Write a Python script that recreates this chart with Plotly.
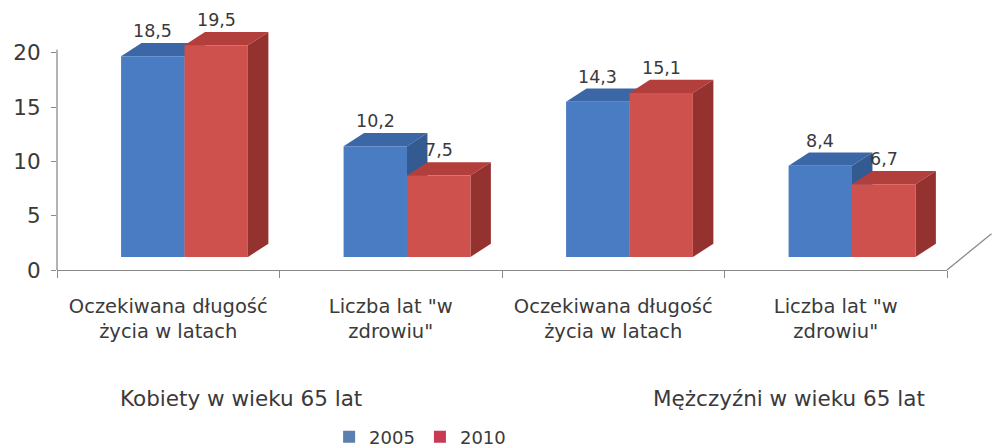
import plotly.graph_objects as go

# ---- data ----
categories_line1 = ["Oczekiwana długość", 'Liczba lat "w', "Oczekiwana długość", 'Liczba lat "w']
categories_line2 = ["życia w latach", 'zdrowiu"', "życia w latach", 'zdrowiu"']
groups = ["Kobiety w wieku 65 lat", "Mężczyźni w wieku 65 lat"]
series_names = ["2005", "2010"]
values_2005 = [18.5, 10.2, 14.3, 8.4]
values_2010 = [19.5, 7.5, 15.1, 6.7]
y_ticks = [0, 5, 10, 15, 20]

# ---- style ----
FONT = "DejaVu Sans"
TXT = "#3a3a3a"
AX = "#8a8a8a"
front_col = {"2005": "#4a7cc4", "2010": "#cf514d"}
top_col = {"2005": "#3c67a6", "2010": "#b23f3b"}
side_col = {"2005": "#345a92", "2010": "#943230"}
legend_col = {"2005": "#5b7fae", "2010": "#c93a55"}
offsets = {"2005": -0.212, "2010": 0.073}
W = 0.285
BASE = 1.2      # floor depth of the 3D frame
DX, DY = 0.092, 1.22  # 3D depth of each bar

xs = list(range(len(values_2005)))
series = {"2005": values_2005, "2010": values_2010}

fig = go.Figure()
shapes = []
annotations = []

for name in series_names:
    vals = series[name]
    fig.add_trace(go.Bar(
        x=xs, y=vals, base=[BASE] * len(vals), name=name,
        offset=offsets[name], width=W,
        marker=dict(color=front_col[name], line=dict(width=0)),
        hoverinfo="skip", showlegend=False,
    ))
    # legend entry (square swatch)
    fig.add_trace(go.Bar(x=[None], y=[None], name=name,
                         marker=dict(color=legend_col[name], line=dict(width=0)),
                         showlegend=True, hoverinfo="skip"))
    for xi, v in zip(xs, vals):
        x0 = xi + offsets[name]
        x1 = x0 + W
        yb = BASE
        yt = BASE + v
        top = f"M{x0},{yt} L{x0+DX},{yt+DY} L{x1+DX},{yt+DY} L{x1},{yt} Z"
        side = f"M{x1},{yb} L{x1+DX},{yb+DY} L{x1+DX},{yt+DY} L{x1},{yt} Z"
        shapes.append(dict(type="path", path=top, xref="x", yref="y", layer="below",
                           fillcolor=top_col[name], line=dict(width=0)))
        shapes.append(dict(type="path", path=side, xref="x", yref="y", layer="below",
                           fillcolor=side_col[name], line=dict(width=0)))
        annotations.append(dict(
            x=x0 + W / 2, y=yt + DY, xref="x", yref="y", text=f"{v}".replace(".", ","),
            showarrow=False, xanchor="center", yanchor="bottom", yshift=0,
            font=dict(family=FONT, size=17.5, color=TXT)))

# y-axis line (front wall edge) and right floor edge
shapes.append(dict(type="line", xref="paper", yref="y", x0=0, x1=0, y0=0, y1=20.3,
                   line=dict(color=AX, width=1.3)))
shapes.append(dict(type="line", xref="paper", yref="paper", x0=1, x1=1.05, y0=0, y1=0.15,
                   line=dict(color=AX, width=1.3)))

# group labels
group_x = [0.207, 0.822]
for g, gx in zip(groups, group_x):
    annotations.append(dict(x=gx, y=-0.53, xref="paper", yref="paper", text=g,
                            showarrow=False, xanchor="center", yanchor="middle",
                            font=dict(family=FONT, size=21.5, color=TXT)))

fig.update_layout(
    width=992, height=447,
    margin=dict(l=57, r=45, t=28, b=177, autoexpand=False),
    paper_bgcolor="white", plot_bgcolor="rgba(0,0,0,0)",
    barmode="overlay",
    font=dict(family=FONT, size=18, color=TXT),
    shapes=shapes, annotations=annotations,
    xaxis=dict(range=[-0.5, 3.5], tickmode="array", tickvals=xs, ticktext=categories_line1,
               ticks="", showgrid=False, zeroline=False, showline=True, automargin=False,
               linecolor=AX, linewidth=1.3, ticklabelstandoff=18,
               tickfont=dict(family=FONT, size=19.5, color=TXT),
               minor=dict(tickmode="linear", tick0=-0.5, dtick=1, ticks="outside",
                          ticklen=7, tickcolor=AX, tickwidth=1.3, showgrid=False)),
    xaxis2=dict(range=[-0.5, 3.5], matches="x", overlaying="x", side="bottom", anchor="y",
                tickmode="array", tickvals=xs, ticktext=categories_line2, ticks="",
                automargin=False,
                showgrid=False, zeroline=False, showline=False, ticklabelstandoff=47,
                tickfont=dict(family=FONT, size=19.5, color=TXT)),
    yaxis=dict(range=[0, 22.3], tickmode="array", tickvals=y_ticks,
               ticktext=[str(t) for t in y_ticks], ticks="outside", ticklen=5,
               automargin=False,
               tickcolor=AX, tickwidth=1.3, showgrid=False, zeroline=False, showline=False,
               ticklabelstandoff=6, tickfont=dict(family=FONT, size=21.5, color=TXT)),
    legend=dict(orientation="h", xref="paper", yref="paper", x=0.408, y=-0.69,
                xanchor="center", yanchor="middle", font=dict(family=FONT, size=18, color=TXT),
                itemwidth=30, tracegroupgap=0, bgcolor="rgba(0,0,0,0)"),
)

# invisible trace to attach xaxis2 labels
fig.add_trace(go.Scatter(x=xs, y=[None] * len(xs), xaxis="x2", yaxis="y",
                         showlegend=False, hoverinfo="skip", mode="markers"))

fig.write_html("out.html", config={"displayModeBar": False},
               post_script="document.body.style.margin='0';document.body.style.padding='0';")
